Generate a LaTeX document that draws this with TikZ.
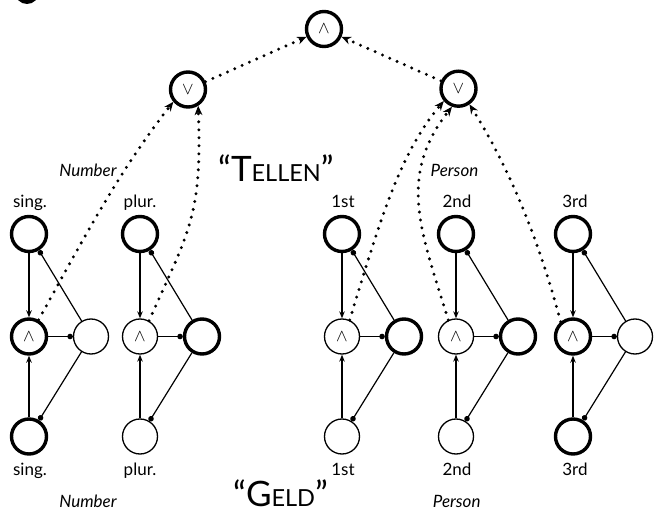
\documentclass[tikz,border=0pt]{standalone}
\usepackage{fontspec}
\setmainfont{Lato}
\usetikzlibrary{arrows.meta}
\begin{document}
\begin{tikzpicture}[x=1pt,y=1pt,
 nd/.style={circle,draw,minimum size=35pt,inner sep=0pt,line width=1.3pt,font=\fontsize{17}{17}\selectfont},
 thk/.style={line width=3.4pt},
 lbl/.style={font=\fontsize{17}{20}\selectfont,anchor=base,inner sep=0pt},
 cat/.style={font=\fontsize{17}{20}\selectfont\itshape,anchor=base,inner sep=0pt},
 big/.style={font=\fontsize{35}{40}\selectfont,anchor=base west,inner sep=0pt},
 arr/.style={-{Stealth[length=7pt,width=5.5pt]},line width=1.2pt},
 dotend/.style={-{Circle[length=5.5pt]},line width=1.2pt},
 dots/.style={line width=3.3pt,line cap=round,dash pattern=on 0pt off 8pt,-{Stealth[length=9.5pt,width=8pt,line width=0pt]}}]
\useasboundingbox (0,-513) rectangle (659,0);
% partial blob at the top-left edge
\fill (27,8) circle (12);

% upper nodes
\node[nd,thk] (top) at (324,-29) {$\wedge$};
\node[nd,thk] (vL) at (188,-89.5) {$\vee$};
\node[nd,thk] (vR) at (458.5,-88.7) {$\vee$};

% unit 1: sing.
\node[nd,thk] (t1) at (29,-234) {};
\node[nd,thk] (a1) at (29,-336.5) {$\wedge$};
\node[nd] (r1) at (91,-336.5) {};
\node[nd,thk] (b1) at (29,-436.5) {};
% unit 2: plur.
\node[nd,thk] (t2) at (140,-234) {};
\node[nd] (a2) at (140,-336.5) {$\wedge$};
\node[nd,thk] (r2) at (202,-336.5) {};
\node[nd] (b2) at (140,-436.5) {};
% unit 3: 1st
\node[nd,thk] (t3) at (342,-234) {};
\node[nd] (a3) at (342,-336.5) {$\wedge$};
\node[nd,thk] (r3) at (404,-336.5) {};
\node[nd] (b3) at (342,-436.5) {};
% unit 4: 2nd
\node[nd,thk] (t4) at (456,-234) {};
\node[nd] (a4) at (456,-336.5) {$\wedge$};
\node[nd,thk] (r4) at (518,-336.5) {};
\node[nd] (b4) at (456,-436.5) {};
% unit 5: 3rd
\node[nd,thk] (t5) at (573,-234) {};
\node[nd,thk] (a5) at (573,-336.5) {$\wedge$};
\node[nd] (r5) at (635,-336.5) {};
\node[nd,thk] (b5) at (573,-436.5) {};

% labels
\node[lbl] (lt1) at (30,-208) {sing.};
\node[lbl] (lt2) at (140,-208) {plur.};
\node[lbl] (lt3) at (343,-208) {1st};
\node[lbl] (lt4) at (457,-208) {2nd};
\node[lbl] (lt5) at (575,-208) {3rd};
\node[lbl] (lb1) at (30,-475) {sing.};
\node[lbl] (lb2) at (140,-475) {plur.};
\node[lbl] (lb3) at (343,-475) {1st};
\node[lbl] (lb4) at (457,-475) {2nd};
\node[lbl] (lb5) at (575,-475) {3rd};
\node[cat] (nt) at (88,-177) {Number};
\node[cat] (pt) at (454.5,-177) {Person};
\node[cat] (nb) at (88,-507) {Number};
\node[cat] (pb) at (456.7,-507) {Person};
\node[big] (tellen) at (218,-182) {“T{\fontsize{23.5}{28}\selectfont ELLEN}”};
\node[big] (geld) at (233,-506) {“G{\fontsize{23.5}{28}\selectfont ELD}”};

% unit connectors
\foreach \i in {1,...,5}{
  \draw[arr] (t\i) -- (a\i);
  \draw[arr] (b\i) -- (a\i);
  \draw[dotend] (a\i) -- (r\i);
  \draw[dotend] (r\i) -- (t\i);
  \draw[dotend] (r\i) -- (b\i);
}

% dotted arrows
\draw[dots] (a1.60) .. controls +(61:90) and +(-128:90) .. (vL.-140);
\draw[dots] (a2.60) .. controls +(66:100) and +(-88:110) .. (vL.-58);
\draw[dots] (a3.65) .. controls +(73:100) and +(-130:70) .. (vR.-140);
\draw[dots] (a4.115) .. controls +(107:90) and +(-128:90) .. (vR.-110);
\draw[dots] (a5.130) .. controls +(105:80) and +(-58:80) .. (vR.-55);
\draw[dots] (vL) -- (top);
\draw[dots] (vR) -- (top);
\end{tikzpicture}
\end{document}
